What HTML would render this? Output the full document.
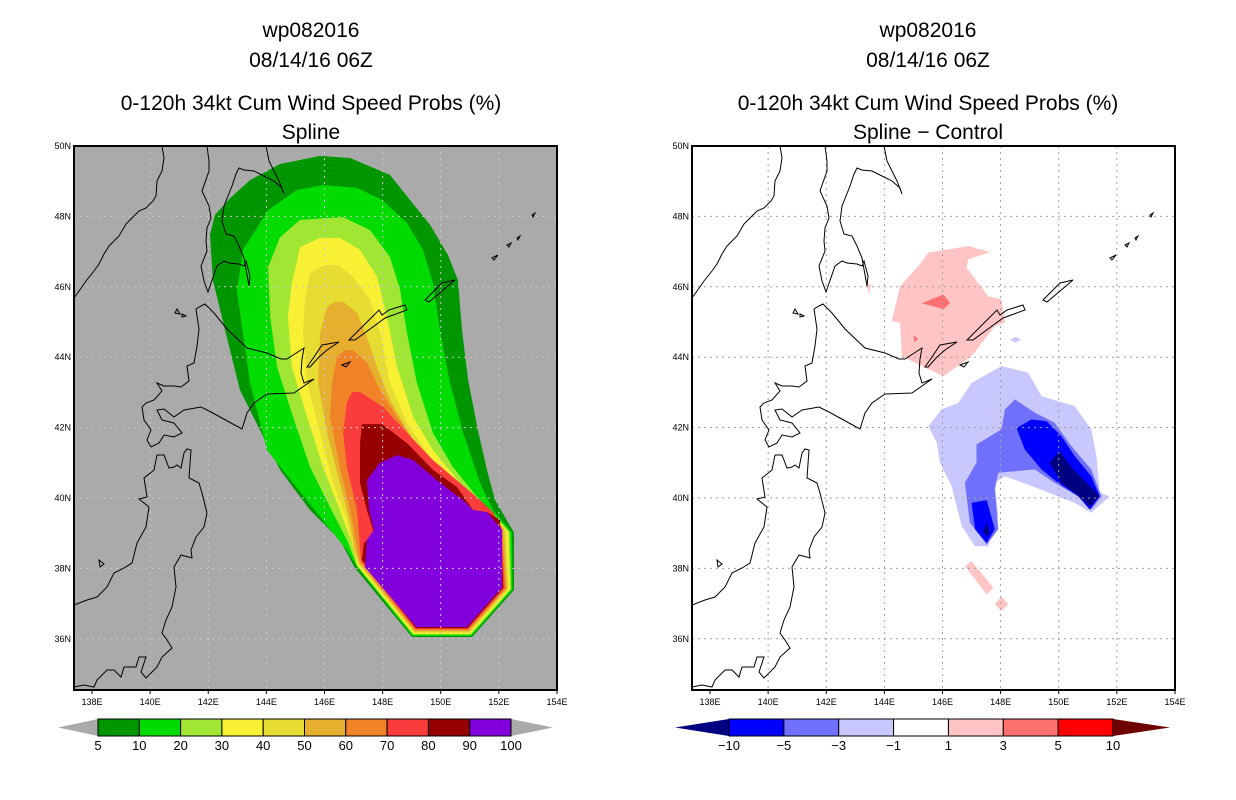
<!DOCTYPE html>
<html><head><meta charset="utf-8"><style>
body{margin:0;background:#fff;}
svg{display:block;font-family:"Liberation Sans",sans-serif;}
.t{font-size:21px;text-anchor:middle;fill:#000;}
.ax{font-size:9px;fill:#000;}
.cb{font-size:13px;text-anchor:middle;fill:#000;}
</style></head><body>
<svg id="chart" width="1236" height="800" viewBox="0 0 1236 800">
<defs>
<clipPath id="clipL"><rect x="74" y="146" width="483" height="544"/></clipPath>
<clipPath id="clipR"><rect x="692" y="146" width="483" height="544"/></clipPath>
<g id="coast">
<path d="M88,0 L90,12 L88,25 L83,35 L82,50 L79,55 L72,62 L65,65 L58,72 L52,78 L45,90 L35,100 L30,108 L25,118 L20,125 L12,135 L5,145 L0,152"/>
<path d="M133,0 L135,15 L135,25 L128,45 L135,60 L137,72 L133,82 L132,95 L133,105 L127,120 L130,135 L134,146 L143,120 L150,115 L155,117 L165,118 L170,120 L172,115 L176,130 L175,140 L170,112 L165,100 L160,90 L152,88 L148,75 L150,60 L158,40 L162,28 L165,22 L170,24 L180,25 L190,30 L200,35 L208,42 L210,48 L205,35 L195,15 L192,0"/>
<path d="M131,158 L127,160 L122,163 L125,183 L123,200 L120,217 L113,220 L115,235 L107,241 L100,240 L90,240 L83,237 L88,245 L80,254 L72,257 L68,261 L70,274 L77,284 L73,294 L77,301 L85,297 L90,289 L100,291 L108,287 L100,277 L88,274 L83,264 L90,263 L100,271 L110,264 L127,261 L137,266 L157,277 L168,283 L173,267 L180,257 L193,248 L220,247 L240,233 L230,237 L227,227 L228,213 L230,202 L213,213 L207,213 L193,207 L173,202 L153,183 L140,167 Z"/>
<path d="M83,309 L90,309 L95,322 L100,321 L103,319 L107,322 L110,307 L113,303 L117,304 L115,332 L125,337 L128,347 L133,367 L130,381 L122,391 L117,404 L118,412 L107,409 L100,421 L102,441 L98,461 L92,474 L88,487 L93,494 L98,502 L88,511 L83,521 L72,532 L67,526 L72,511 L65,511 L62,521 L50,521 L47,531 L40,524 L33,524 L23,534 L20,541 L10,539 L0,541"/>
<path d="M83,309 L80,324 L70,332 L73,351 L65,353 L75,361 L72,381 L63,397 L58,417 L50,422 L40,427 L33,441 L23,451 L13,454 L0,459"/>
<path d="M275,194 L295,174 L305,164 L308,169 L315,164 L331,159 L333,164 L311,172 L281,194 Z"/>
<path d="M233,221 L240,211 L248,199 L265,196 L253,204 L245,211 L236,221 Z"/>
<path d="M351,154 L368,137 L381,134 L355,156 Z"/>
<path d="M418,112 L424,109 L420,114 Z M433,99 L437,97 L435,101 Z M443,92 L446,90 L444,94 Z M458,69 L461,67 L459,71 Z"/>
<path d="M268,219 L276,216 L272,221 Z M103,163 L106,168 L101,167 Z M108,168 L112,170 L108,171 Z M25,414 L30,418 L26,421 Z"/>
</g>
</defs>

<text class="t" x="311" y="37">wp082016</text>
<text class="t" x="311" y="67">08/14/16 06Z</text>
<text class="t" x="311" y="110">0-120h 34kt Cum Wind Speed Probs (%)</text>
<text class="t" x="311" y="139">Spline</text>
<text class="t" x="928" y="37">wp082016</text>
<text class="t" x="928" y="67">08/14/16 06Z</text>
<text class="t" x="928" y="110">0-120h 34kt Cum Wind Speed Probs (%)</text>
<text class="t" x="928" y="139">Spline − Control</text>

<g id="leftPanel">
<rect x="74" y="146" width="483" height="544" fill="#aaaaaa"/>
<g id="leftFill" clip-path="url(#clipL)"></g>
<g id="leftGrid" clip-path="url(#clipL)"></g>
<g clip-path="url(#clipL)"><use href="#coast" transform="translate(74,146)" fill="none" stroke="#000" stroke-width="1"/></g>
<rect x="74" y="146" width="483" height="544" fill="none" stroke="#000" stroke-width="2"/>
<g id="leftAxis"></g>
</g>

<g id="rightPanel">
<rect x="692" y="146" width="483" height="544" fill="#ffffff"/>
<g id="rightFill" clip-path="url(#clipR)"></g>
<g id="rightGrid" clip-path="url(#clipR)"></g>
<g clip-path="url(#clipR)"><use href="#coast" transform="translate(692,146)" fill="none" stroke="#000" stroke-width="1"/></g>
<rect x="692" y="146" width="483" height="544" fill="none" stroke="#000" stroke-width="2"/>
<g id="rightAxis"></g>
</g>

<g id="leftBar"></g>
<g id="rightBar"></g>
</svg>
<script>
const NS='http://www.w3.org/2000/svg';
const lonTicks=[138,140,142,144,146,148,150,152,154];
const latTicks=[36,38,40,42,44,46,48,50];
const lonMin=137.38, latMax=50;
const probLevels=[5,10,20,30,40,50,60,70,80,90,100];
const probColors=['#009600','#00dc00','#a0e632','#f8f032','#e6dc32','#e6af2d','#f08228','#fa3c3c','#960000','#8200dc'];
const diffLevels=[-10,-5,-3,-1,1,3,5,10];
const diffColors=['#000080','#0000ff','#7070ff','#c8c8ff','#ffffff','#ffc4c4','#ff7070','#ff0000','#6e0000'];
const octCenter=[149.98,37.81];
const octBottom=[[152.52,37.39],[151.08,36.05],[149.01,36.05]];
const probTongue=[
[[147.05,38.01],[146.53,38.81],[145.50,39.66],[144.47,40.80],[143.78,41.93],[143.09,43.07],[142.58,44.77],[142.16,46.19],[142.06,47.47],[142.23,48.04],[142.75,48.52],[143.44,49.03],[144.47,49.49],[145.85,49.72],[146.88,49.66],[148.25,49.18],[148.94,48.47],[149.63,47.76],[150.25,46.90],[150.59,46.19],[150.73,44.77],[150.94,43.35],[151.28,41.93],[151.59,40.80],[151.87,39.94],[152.52,39.01]],
[[147.12,38.04],[146.77,38.52],[145.85,39.46],[144.92,40.43],[144.02,41.36],[143.44,43.27],[143.16,44.86],[142.99,45.91],[143.20,47.05],[144.06,48.18],[145.05,48.75],[145.95,48.89],[147.12,48.81],[147.98,48.47],[148.84,47.81],[149.39,47.05],[149.73,46.11],[149.98,44.69],[150.32,43.27],[150.77,41.85],[151.35,40.43],[151.80,39.66],[152.45,39.03]],
[[147.12,38.07],[146.77,38.81],[146.19,39.74],[145.50,40.88],[144.92,42.30],[144.37,43.72],[144.13,45.14],[144.06,46.56],[144.47,47.41],[145.16,47.90],[146.64,47.98],[147.57,47.61],[148.25,46.85],[148.60,45.91],[148.84,44.69],[149.18,43.27],[149.73,41.85],[150.42,40.88],[151.25,40.03],[151.80,39.57],[152.38,39.03]],
[[147.12,38.10],[146.95,38.72],[146.53,39.66],[145.95,40.88],[145.40,42.30],[144.88,43.72],[144.74,45.14],[144.88,46.11],[145.16,47.13],[145.85,47.39],[146.53,47.39],[147.22,47.05],[147.81,46.28],[148.15,45.14],[148.50,43.72],[149.05,42.30],[149.73,41.36],[150.66,40.43],[151.59,39.74],[152.32,39.06]],
[[147.15,38.13],[146.98,38.52],[146.77,39.38],[146.29,40.43],[145.85,41.85],[145.40,43.27],[145.26,44.69],[145.33,45.63],[145.50,46.39],[146.02,46.62],[146.47,46.62],[146.98,46.28],[147.57,45.63],[147.91,44.69],[148.25,43.27],[148.84,42.13],[149.63,41.16],[150.56,40.31],[151.45,39.74],[152.25,39.09]],
[[147.19,38.15],[147.05,38.52],[146.88,39.29],[146.53,40.43],[146.09,41.85],[145.78,43.27],[145.85,44.69],[146.09,45.43],[146.36,45.57],[146.64,45.57],[147.12,45.26],[147.46,44.57],[147.81,43.72],[148.25,42.78],[149.05,41.65],[149.98,40.71],[151.01,40.03],[151.59,39.74],[152.18,39.12]],
[[147.22,38.18],[147.12,38.61],[146.88,39.66],[146.53,40.88],[146.19,42.30],[146.26,43.27],[146.43,44.01],[146.71,44.20],[146.98,44.20],[147.46,43.84],[147.91,43.07],[148.50,42.30],[149.29,41.36],[150.22,40.60],[151.11,40.03],[151.70,39.66],[152.11,39.15]],
[[147.26,38.21],[147.22,38.61],[147.12,39.66],[146.77,40.88],[146.64,41.85],[146.77,42.70],[146.95,43.01],[147.22,43.01],[148.01,42.59],[148.84,41.85],[149.73,41.08],[150.66,40.43],[151.35,39.94],[151.80,39.60],[152.07,39.18]],
[[147.29,38.24],[147.36,38.72],[147.70,39.01],[147.46,39.66],[147.22,40.43],[147.22,41.56],[147.29,42.10],[147.98,42.10],[148.84,41.56],[149.73,40.80],[150.56,40.31],[151.11,39.66],[151.59,39.60],[152.04,39.38]],
[[147.39,38.04],[147.46,38.81],[147.70,39.09],[147.53,39.66],[147.46,40.51],[147.91,41.00],[148.50,41.22],[149.05,41.08],[149.98,40.43],[150.77,39.94],[151.11,39.66],[151.59,39.60],[152.11,39.09]]
];
const diffBins=[5,5,5,5,6,6,3,3,2,1,1,0,0];
const diffShapes=[
[[146.77,38.06],[147.00,38.21],[147.75,37.45],[147.52,37.26]],
[[147.80,36.98],[148.03,37.21],[148.26,36.98],[148.03,36.79]],
[[145.51,46.97],[146.89,47.16],[147.63,46.98],[146.89,46.78],[146.83,46.54],[147.57,45.73],[148.03,45.64],[148.15,44.98],[147.80,44.88],[147.00,44.03],[146.03,43.46],[145.28,43.75],[144.60,44.03],[144.54,44.98],[144.25,45.02],[144.54,46.02],[145.17,46.59]],
[[143.39,46.07],[143.54,46.07],[143.47,45.78]],
[[145.28,45.53],[146.03,45.78],[146.26,45.54],[146.03,45.37]],
[[145.00,44.62],[145.17,44.52],[145.03,44.43]],
[[148.32,44.50],[148.51,44.58],[148.70,44.50],[148.51,44.41]],
[[145.51,42.04],[145.97,42.52],[146.54,42.70],[147.00,43.27],[148.03,43.75],[148.95,43.56],[149.41,42.89],[150.55,42.61],[151.12,41.95],[151.30,41.19],[151.41,40.15],[151.75,40.05],[151.12,39.58],[150.55,39.86],[149.06,40.34],[148.15,40.62],[147.80,40.43],[147.92,39.48],[147.57,38.63],[147.12,38.63],[146.66,39.20],[146.31,40.34],[145.91,41.00],[145.80,41.57]],
[[147.17,41.52],[148.03,41.95],[148.15,42.52],[148.49,42.80],[149.18,42.42],[149.86,42.14],[150.44,41.47],[151.12,40.81],[151.47,40.05],[151.12,39.67],[150.67,40.05],[149.86,40.43],[149.18,40.81],[147.92,40.72],[147.80,40.24],[147.92,39.11],[147.52,38.68],[146.94,39.30],[146.77,40.43],[147.17,41.00]],
[[148.55,41.99],[149.06,42.23],[149.58,42.18],[150.09,41.76],[150.55,41.19],[151.12,40.62],[151.41,40.05],[151.07,39.67],[150.67,40.05],[149.98,40.43],[149.41,40.81],[148.83,41.38]],
[[147.00,39.86],[147.52,39.94],[147.80,39.11],[147.52,38.72],[147.12,39.11]],
[[149.69,41.00],[150.03,41.33],[150.50,40.81],[151.41,40.05],[151.07,39.77],[150.55,40.15],[150.09,40.43]],
[[147.40,39.06],[147.52,39.28],[147.63,39.02],[147.52,38.91]]
];
const S=29.06, SY=35.2;
function xs(ox,lon){return ox+(lon-lonMin)*S;}
function ys(lat){return 146+(latMax-lat)*SY;}
function el(tag,attrs,parent){const e=document.createElementNS(NS,tag);for(const k in attrs)e.setAttribute(k,attrs[k]);parent.appendChild(e);return e;}
function poly(ox,pts,fill,parent,name){
  const d=pts.map(p=>xs(ox,p[0]).toFixed(1)+','+ys(p[1]).toFixed(1)).join(' ');
  const e=el('polygon',{points:d,fill:fill},parent);
  
  
  return e;
}
const lf=document.getElementById('leftFill');
probTongue.forEach((t,k)=>{
  const f=1-k*0.018;
  const bottom=octBottom.map(p=>[octCenter[0]+(p[0]-octCenter[0])*f, octCenter[1]+(p[1]-octCenter[1])*f]);
  poly(74,t.concat(bottom),probColors[k],lf,'prob-contour-'+probLevels[k]);
});
const rf=document.getElementById('rightFill');
diffShapes.forEach((s,i)=>{poly(692,s,diffColors[diffBins[i]],rf,'diff-region-'+i);});
function grid(ox,gid,aid,side,color){
  const g=document.getElementById(gid), a=document.getElementById(aid);
  lonTicks.forEach(lon=>{
    const x=xs(ox,lon);
    if(lon>138&&lon<154){const l=el('line',{x1:x,y1:146,x2:x,y2:690,stroke:color,'stroke-width':1,'stroke-dasharray':'2,4'},g);
      
      }
    const tk=el('line',{x1:x,y1:690,x2:x,y2:694,stroke:'#000'},a);
    
    
    const t=el('text',{x:x,y:705,'text-anchor':'middle',class:'ax'},a);t.textContent=lon+'E';
    
    
  });
  latTicks.forEach(lat=>{
    const y=ys(lat);
    if(lat<50){const l=el('line',{x1:ox,y1:y,x2:ox+483,y2:y,stroke:color,'stroke-width':1,'stroke-dasharray':'2,4'},g);
      
      }
    const t=el('text',{x:ox-3,y:y+3,'text-anchor':'end',class:'ax'},a);t.textContent=lat+'N';
    
    
  });
}
grid(74,'leftGrid','leftAxis','left','#c8c8c8');
grid(692,'rightGrid','rightAxis','right','#a0a0a0');
(function(){
  const g=document.getElementById('leftBar');
  const x0=98,x1=511,w=(x1-x0)/10,y0=719,h=17;
  const a1=el('polygon',{points:`${x0},${y0} ${x0},${y0+h} 58,${y0+h/2}`,fill:'#aaaaaa'},g);
  
  
  const a2=el('polygon',{points:`${x1},${y0} ${x1},${y0+h} 553,${y0+h/2}`,fill:'#aaaaaa'},g);
  
  
  probColors.forEach((c,i)=>{const r=el('rect',{x:x0+i*w,y:y0,width:w,height:h,fill:c,stroke:'#000','stroke-width':1},g);
    
    });
  probLevels.forEach((v,i)=>{const t=el('text',{x:x0+i*w,y:750,class:'cb'},g);t.textContent=v;
    
    });
})();
(function(){
  const g=document.getElementById('rightBar');
  const x0=729,x1=1113,inner=diffColors.slice(1,8),w=(x1-x0)/inner.length,y0=719,h=17;
  const a1=el('polygon',{points:`${x0},${y0} ${x0},${y0+h} 675,${y0+h/2}`,fill:diffColors[0]},g);
  
  
  const a2=el('polygon',{points:`${x1},${y0} ${x1},${y0+h} 1170,${y0+h/2}`,fill:diffColors[8]},g);
  
  
  inner.forEach((c,i)=>{const r=el('rect',{x:x0+i*w,y:y0,width:w,height:h,fill:c,stroke:'#000','stroke-width':1},g);
    
    });
  diffLevels.forEach((v,i)=>{const t=el('text',{x:x0+i*w,y:750,class:'cb'},g);t.textContent=v<0?'−'+(-v):v;
    
    });
})();
</script>
</body></html>
